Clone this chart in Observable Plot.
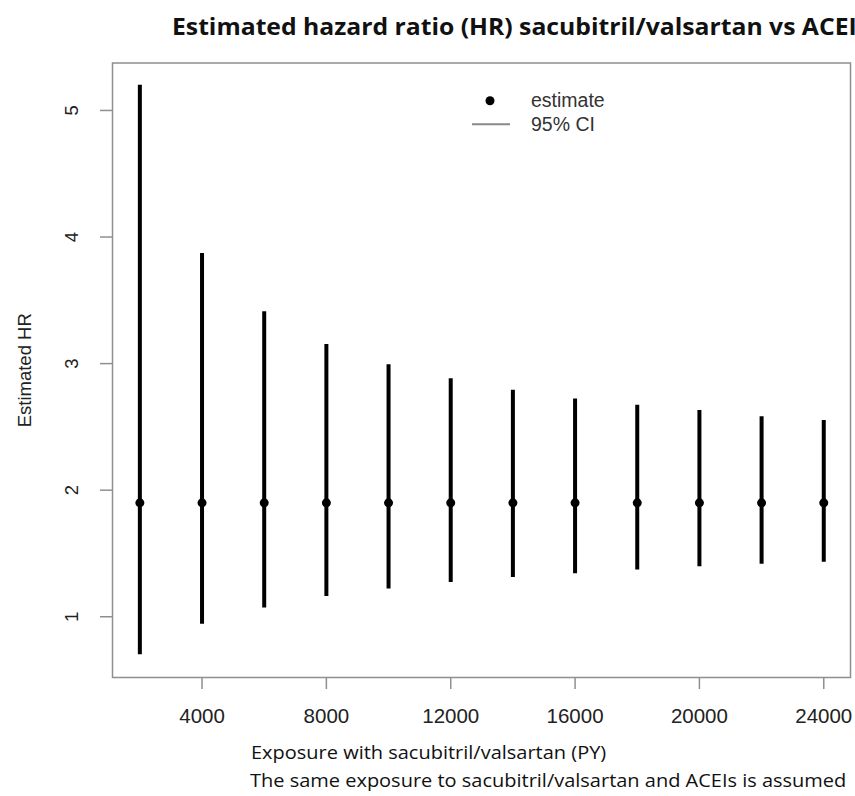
<!DOCTYPE html>
<html>
<head>
<meta charset="utf-8">
<script src="https://cdn.jsdelivr.net/npm/d3@7"></script>
<script src="https://cdn.jsdelivr.net/npm/@observablehq/plot@0.6"></script>
<style>
  html, body { margin: 0; padding: 0; background: #fff; }
  body { width: 855px; height: 796px; position: relative; overflow: hidden; }
  #title { position: absolute; left: 172px; top: 10px; white-space: nowrap;
    font-family: "Open Sans", sans-serif; font-weight: 700; font-size: 23px; color: #111;
    transform: scaleX(1.075); transform-origin: left center; }
  #chart { position: absolute; left: 0; top: 50px; }
  #legend { position: absolute; left: 460px; top: 88px; font-family: "Liberation Sans", Arial, sans-serif;
    font-size: 19.5px; color: #333; }
  .cap { position: absolute; white-space: nowrap; font-family: "Open Sans", sans-serif; font-size: 18.5px; color: #111;
    transform: scaleX(1.08); transform-origin: left center; }
</style>
</head>
<body>
<div id="title">Estimated hazard ratio (HR) sacubitril/valsartan vs ACEI</div>
<div id="chart"></div>
<div id="legend"></div>
<div class="cap" id="cap1" style="left:251px; top:739px;">Exposure with sacubitril/valsartan (PY)</div>
<div class="cap" id="cap2" style="left:250px; top:767px;">The same exposure to sacubitril/valsartan and ACEIs is assumed</div>
<script>
// Data
const exposure = [2000, 4000, 6000, 8000, 10000, 12000, 14000, 16000, 18000, 20000, 22000, 24000];
const estimate = [1.9, 1.9, 1.9, 1.9, 1.9, 1.9, 1.9, 1.9, 1.9, 1.9, 1.9, 1.9];
const upper = [5.20, 3.87, 3.41, 3.15, 2.99, 2.88, 2.79, 2.72, 2.67, 2.63, 2.58, 2.55];
const lower = [0.70, 0.94, 1.07, 1.16, 1.22, 1.27, 1.31, 1.34, 1.37, 1.395, 1.415, 1.43];
const xTicks = [4000, 8000, 12000, 16000, 20000, 24000];
const yTicks = [1, 2, 3, 4, 5];
const yLabel = "Estimated HR";
const legendItems = ["estimate", "95% CI"];

const data = exposure.map((x, i) => ({x, est: estimate[i], lo: lower[i], hi: upper[i]}));

const chart = Plot.plot({
  width: 855,
  height: 690,
  marginLeft: 112,
  marginRight: 5,
  marginTop: 12.5,
  marginBottom: 63,
  style: {fontFamily: "'Liberation Sans', Arial, sans-serif", background: "white", color: "#222"},
  x: {domain: [1120, 24860]},
  y: {domain: [0.52, 5.375]},
  marks: [
    Plot.frame({stroke: "#8f8f8f", strokeWidth: 1.5}),
    Plot.axisX({ticks: xTicks, tickSize: 12, tickPadding: 19, tickFormat: d => String(d), label: null,
      stroke: "#8f8f8f", strokeWidth: 1.5, fontSize: 20.5, fill: "#222"}),
    Plot.axisY({ticks: yTicks, tickSize: 12, tickFormat: () => "", label: null, stroke: "#8f8f8f", strokeWidth: 1.5}),
    Plot.text(yTicks, {y: d => d, text: d => String(d), frameAnchor: "left", dx: -40, rotate: -90,
      textAnchor: "middle", lineAnchor: "middle", fontSize: 18.5, fill: "#222"}),
    Plot.text([yLabel], {text: d => d, frameAnchor: "left", dx: -87, rotate: -90,
      textAnchor: "middle", lineAnchor: "middle", fontSize: 18.5, fill: "#222"}),
    Plot.ruleX(data, {x: "x", y1: "lo", y2: "hi", stroke: "black", strokeWidth: 4}),
    Plot.dot(data, {x: "x", y: "est", r: 4.5, fill: "black", stroke: "none"})
  ]
});
document.getElementById("chart").appendChild(chart);

// Legend (inside plot area)
const lg = document.getElementById("legend");
lg.innerHTML = `
<svg width="200" height="50" style="position:absolute;left:0;top:0;overflow:visible">
  <circle cx="30" cy="12.7" r="4.5" fill="black"></circle>
  <line x1="12" x2="50" y1="36.3" y2="36.3" stroke="#888" stroke-width="2"></line>
</svg>
<div style="position:absolute;left:71px;top:0px;line-height:25px;white-space:nowrap">${legendItems[0]}</div>
<div style="position:absolute;left:71px;top:24px;line-height:25px;white-space:nowrap">${legendItems[1]}</div>`;
</script>
</body>
</html>
